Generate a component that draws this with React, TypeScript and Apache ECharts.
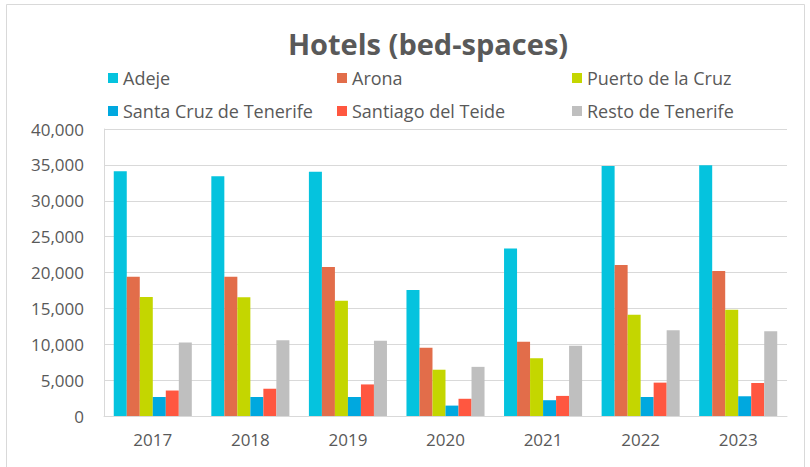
import React, { useEffect, useRef } from "react";
import * as echarts from "echarts";

const years = ["2017", "2018", "2019", "2020", "2021", "2022", "2023"];
const adeje = [34100, 33400, 34050, 17550, 23350, 34850, 34950];
const arona = [19400, 19400, 20750, 9500, 10350, 21050, 20200];
const puerto = [16600, 16550, 16050, 6450, 8050, 14100, 14800];
const santaCruz = [2650, 2650, 2650, 1450, 2200, 2650, 2750];
const santiago = [3550, 3800, 4400, 2400, 2800, 4650, 4600];
const resto = [10250, 10550, 10500, 6850, 9800, 11950, 11800];

const seriesNames = [
  "Adeje",
  "Arona",
  "Puerto de la Cruz",
  "Santa Cruz de Tenerife",
  "Santiago del Teide",
  "Resto de Tenerife",
];
const seriesData = [adeje, arona, puerto, santaCruz, santiago, resto];
const colors = ["#05C3DE", "#E26D4A", "#C4D600", "#00A8DF", "#FF5740", "#BFBFBF"];

const FONT = "Open Sans";
const TEXT = "#595959";

export default function App() {
  const ref = useRef<HTMLDivElement>(null);
  useEffect(() => {
    if (!ref.current) return;
    const chart = echarts.init(ref.current, null, { renderer: "svg" });
    const legendPos = [
      [108, 68],
      [337, 68],
      [572, 68],
      [108, 101],
      [337, 101],
      [572, 101],
    ];
    chart.setOption({
      animation: false,
      backgroundColor: "#ffffff",
      color: colors,
      title: {
        text: "Hotels (bed-spaces)",
        left: 423,
        top: 24,
        textAlign: "center",
        textStyle: { fontFamily: FONT, fontWeight: "bold", fontSize: 29, color: TEXT },
      },
      legend: seriesNames.map((n, i) => ({
        data: [n],
        left: legendPos[i][0],
        top: legendPos[i][1],
        padding: 0,
        icon: "rect",
        itemWidth: 10,
        itemHeight: 10,
        itemGap: 5,
        textStyle: { fontFamily: FONT, fontSize: 18, color: TEXT, lineHeight: 20 },
      })),
      graphic: [
        {
          type: "rect",
          shape: { x: 6.5, y: 4.5, width: 798, height: 480 },
          style: { fill: "none", stroke: "#D9D9D9", lineWidth: 1 },
          silent: true,
        },
      ],
      grid: { left: 104, right: 23, top: 129, bottom: 51 },
      xAxis: {
        type: "category",
        data: years,
        axisLine: { show: true, lineStyle: { color: "#D9D9D9", width: 1 } },
        axisTick: { show: false },
        axisLabel: { fontFamily: FONT, fontSize: 17, color: TEXT, margin: 15 },
      },
      yAxis: {
        type: "value",
        min: 0,
        max: 40000,
        interval: 5000,
        axisLine: { show: true, lineStyle: { color: "#D9D9D9", width: 1 } },
        axisTick: { show: false },
        splitLine: { show: true, lineStyle: { color: "#D9D9D9", width: 1 } },
        axisLabel: {
          fontFamily: FONT,
          fontSize: 17,
          color: TEXT,
          margin: 20,
          formatter: (v: number) => v.toLocaleString("en-US"),
        },
      },
      series: seriesNames.map((n, i) => ({
        name: n,
        type: "bar",
        data: seriesData[i],
        barGap: "0%",
        barCategoryGap: "20%",
        itemStyle: { color: colors[i] },
      })),
    });
    return () => chart.dispose();
  }, []);
  return (
    <div
      ref={ref}
      style={{ position: "fixed", left: 0, top: 0, width: 810, height: 467 }}
    />
  );
}
